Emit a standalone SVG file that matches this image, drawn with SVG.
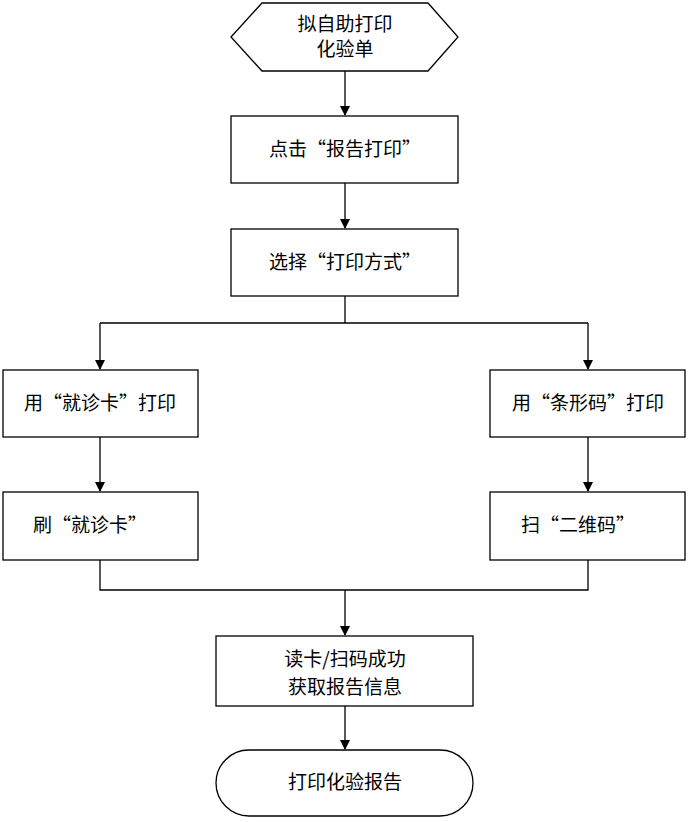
<svg xmlns="http://www.w3.org/2000/svg" width="689" height="822" viewBox="0 0 689 822">
<style>
.n{fill:#fff;stroke:#000;stroke-width:1.3}
.t{font-family:"Noto Sans CJK SC","Liberation Serif",sans-serif;font-size:19px;text-anchor:middle;fill:#000}
.c{fill:none;stroke:#000;stroke-width:1.3}
</style>
<defs><marker id="a" markerWidth="10" markerHeight="10" refX="9" refY="5" orient="auto" markerUnits="userSpaceOnUse"><path d="M0,0L10,5L0,10z" fill="#000"/></marker></defs>
<rect width="689" height="822" fill="#fff"/>
<g id="connectors">
<path class="c" d="M345,71V115" marker-end="url(#a)"/>
<path class="c" d="M345,183V228" marker-end="url(#a)"/>
<path class="c" d="M345,296V323M100,323H588"/>
<path class="c" d="M100,323V369" marker-end="url(#a)"/>
<path class="c" d="M588,323V369" marker-end="url(#a)"/>
<path class="c" d="M100,437V491" marker-end="url(#a)"/>
<path class="c" d="M588,437V491" marker-end="url(#a)"/>
<path class="c" d="M100,560V590H588V560"/>
<path class="c" d="M345,590V635" marker-end="url(#a)"/>
<path class="c" d="M345,706V749" marker-end="url(#a)"/>
</g>
<g id="start"><polygon class="n" points="231,37 262,3 428,3 458,37 428,71 262,71"/><text class="t" x="345" y="31">拟自助打印</text><text class="t" x="345" y="56">化验单</text></g>
<g id="n1"><rect class="n" x="231" y="116" width="227" height="67"/><text class="t" x="345" y="156">点击“报告打印”</text></g>
<g id="n2"><rect class="n" x="231" y="229" width="227" height="67"/><text class="t" x="345" y="269">选择“打印方式”</text></g>
<g id="n3"><rect class="n" x="3" y="370" width="195" height="67"/><text class="t" x="100" y="410">用“就诊卡”打印</text></g>
<g id="n4"><rect class="n" x="490" y="370" width="195" height="67"/><text class="t" x="588" y="410">用“条形码”打印</text></g>
<g id="n5"><rect class="n" x="3" y="492" width="195" height="68"/><text class="t" x="90" y="532">刷“就诊卡”</text></g>
<g id="n6"><rect class="n" x="490" y="492" width="195" height="68"/><text class="t" x="578" y="532">扫“二维码”</text></g>
<g id="n7"><rect class="n" x="216" y="636" width="257" height="70"/><text class="t" x="345" y="666">读卡/扫码成功</text><text class="t" x="345" y="694">获取报告信息</text></g>
<g id="end"><rect class="n" x="216" y="750" width="257" height="66" rx="33"/><text class="t" x="345" y="789">打印化验报告</text></g>
</svg>
